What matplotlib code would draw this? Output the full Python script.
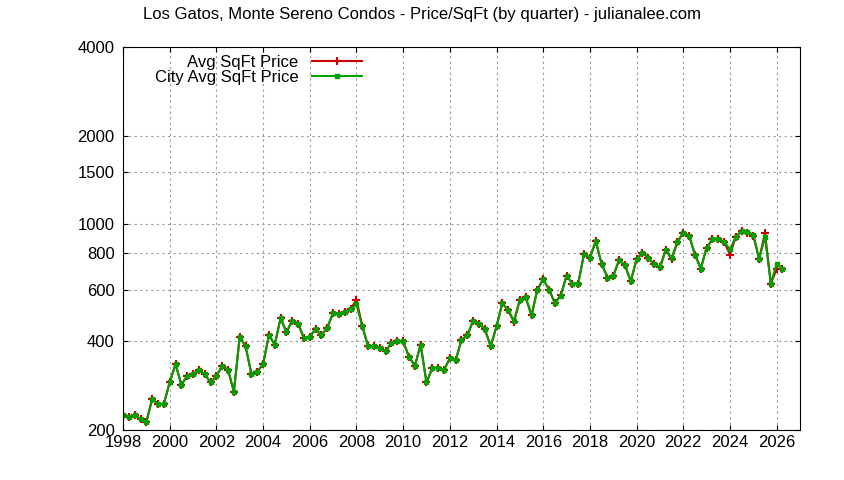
import matplotlib.pyplot as plt
import numpy as np

plt.rcParams['font.family'] = ['Liberation Sans', 'DejaVu Sans']

# quarterly city average price per sqft, 1998 Q1 onward
city = [225, 222, 225, 218, 213, 255, 245, 245,
        290, 335, 285, 305, 310, 320, 310, 290,
        305, 330, 320, 270, 415, 385, 310, 315,
        335, 420, 390, 480, 430, 470, 460, 410,
        415, 440, 420, 445, 500, 495, 505, 515,
        535, 450, 385, 385, 380, 370, 395, 400,
        400, 355, 330, 390, 290, 325, 325, 320,
        350, 345, 405, 420, 470, 460, 440, 385,
        450, 540, 510, 470, 555, 565, 490, 600,
        650, 600, 540, 570,
        668, 629, 629, 795, 769, 875, 735, 659,
        668, 755, 726, 640, 761, 800, 770, 730,
        713, 820, 769, 871, 937, 913, 789, 707,
        832, 889, 889, 871, 822, 906, 949, 942,
        922, 761, 906, 629, 735, 707]
avg = list(city)
# quarters where the local average differs from the city average
diffs = {40: 555, 67: 465, 75: 575, 94: 760, 104: 789, 107: 935, 108: 915, 110: 935, 112: 703}
for i, v in diffs.items():
    avg[i] = v
dates = 1998 + 0.25 * np.arange(len(city))

fig = plt.figure(figsize=(8.44, 4.8), dpi=100)
ax = fig.add_axes([123 / 844, 50 / 480, 677 / 844, 383 / 480])
ax.plot(dates, avg, color='#cc0000', marker='+', markersize=6, mew=1.5, lw=1.5, label='Avg SqFt Price')
ax.plot(dates, city, color='#00a000', marker='s', markersize=3.5, lw=1.5, label='City Avg SqFt Price')

ax.set_yscale('log')
ax.set_ylim(200, 4000)
ax.set_xlim(1998, 2027)
yt = [200, 400, 600, 800, 1000, 1500, 2000, 4000]
ax.set_yticks(yt)
ax.set_yticklabels([str(v) for v in yt])
ax.yaxis.set_minor_locator(plt.NullLocator())
ax.set_xticks(np.arange(1998, 2027, 2))
ax.tick_params(direction='in', top=True, right=True, labelsize=12)
ax.tick_params(axis='y', pad=6)
ax.grid(True, linestyle=(0, (2, 3)), color='#999999', lw=0.8)
for s in ax.spines.values():
    s.set_linewidth(0.8)

ax.legend(loc='upper left', bbox_to_anchor=(0.03, 1.01), frameon=False, markerfirst=False,
          fontsize=12, handlelength=3, borderpad=0.2, labelspacing=0.0)
fig.text(0.5, 0.985, 'Los Gatos, Monte Sereno Condos - Price/SqFt (by quarter) - julianalee.com',
         ha='center', va='top', fontsize=12)

fig.savefig('out.png', dpi=100)
